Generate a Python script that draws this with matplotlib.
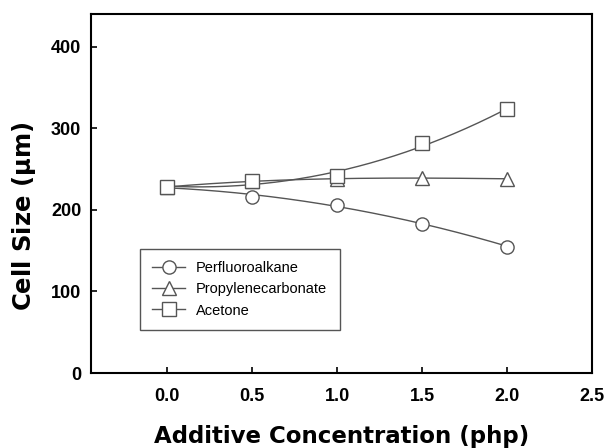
import numpy as np
import matplotlib
matplotlib.use('Agg')
import matplotlib.pyplot as plt

plt.rcParams['font.family'] = ['Liberation Sans', 'DejaVu Sans']

conc = [0.0, 0.5, 1.0, 1.5, 2.0]
perfluoro = [228, 216, 206, 183, 155]
propylene = [228, 235, 238, 239, 238]
acetone = [228, 235, 241, 282, 323]

series = [('Perfluoroalkane', perfluoro, 'o', 2),
          ('Propylenecarbonate', propylene, '^', 3),
          ('Acetone', acetone, 's', 3)]

fig = plt.figure(figsize=(6.05, 4.48), dpi=100)
ax = fig.add_axes([91 / 605, 1 - 373 / 448, 501 / 605, 359 / 448])

line_col = '#555555'
xs = np.linspace(conc[0], conc[-1], 200)
for name, vals, mk, deg in series:
    # smooth regression curve through the points, markers on top
    coef = np.polyfit(conc, vals, deg)
    ax.plot(xs, np.polyval(coef, xs), color=line_col, lw=1.0)
    ax.plot(conc, vals, linestyle='none', marker=mk, ms=9.5, mfc='white',
            mec=line_col, mew=1.0)
    ax.plot([], [], color=line_col, lw=1.0, marker=mk, ms=9.5, mfc='white',
            mec=line_col, mew=1.0, label=name)

ax.set_xlim(-0.45, 2.5)
ax.set_ylim(0, 440)
ax.set_xticks([0.0, 0.5, 1.0, 1.5, 2.0, 2.5])
ax.set_xticklabels(['0.0', '0.5', '1.0', '1.5', '2.0', '2.5'])
ax.set_yticks([0, 100, 200, 300, 400])
ax.tick_params(direction='in', length=4, width=1.2, labelsize=13)
ax.tick_params(axis='x', pad=11)
ax.tick_params(axis='y', pad=7)
for lab in ax.get_xticklabels() + ax.get_yticklabels():
    lab.set_fontweight('bold')
for sp in ax.spines.values():
    sp.set_linewidth(1.5)

ax.set_ylabel('Cell Size ($\\mathbf{\\mu}$m)', family='DejaVu Sans', size=17.5, weight='bold')
ax.yaxis.set_label_coords(-0.106, 0.435)
ax.set_xlabel('Additive Concentration (php)', family='DejaVu Sans', size=16.5,
              weight='bold', labelpad=14)

leg = ax.legend(loc='lower left', bbox_to_anchor=(0.098, 0.12), borderaxespad=0,
                fontsize=10.5, fancybox=False, edgecolor='#555555', framealpha=1,
                handlelength=2.2, borderpad=0.85, labelspacing=0.5)
leg.get_frame().set_linewidth(1.0)

fig.savefig('out.png', dpi=100)
